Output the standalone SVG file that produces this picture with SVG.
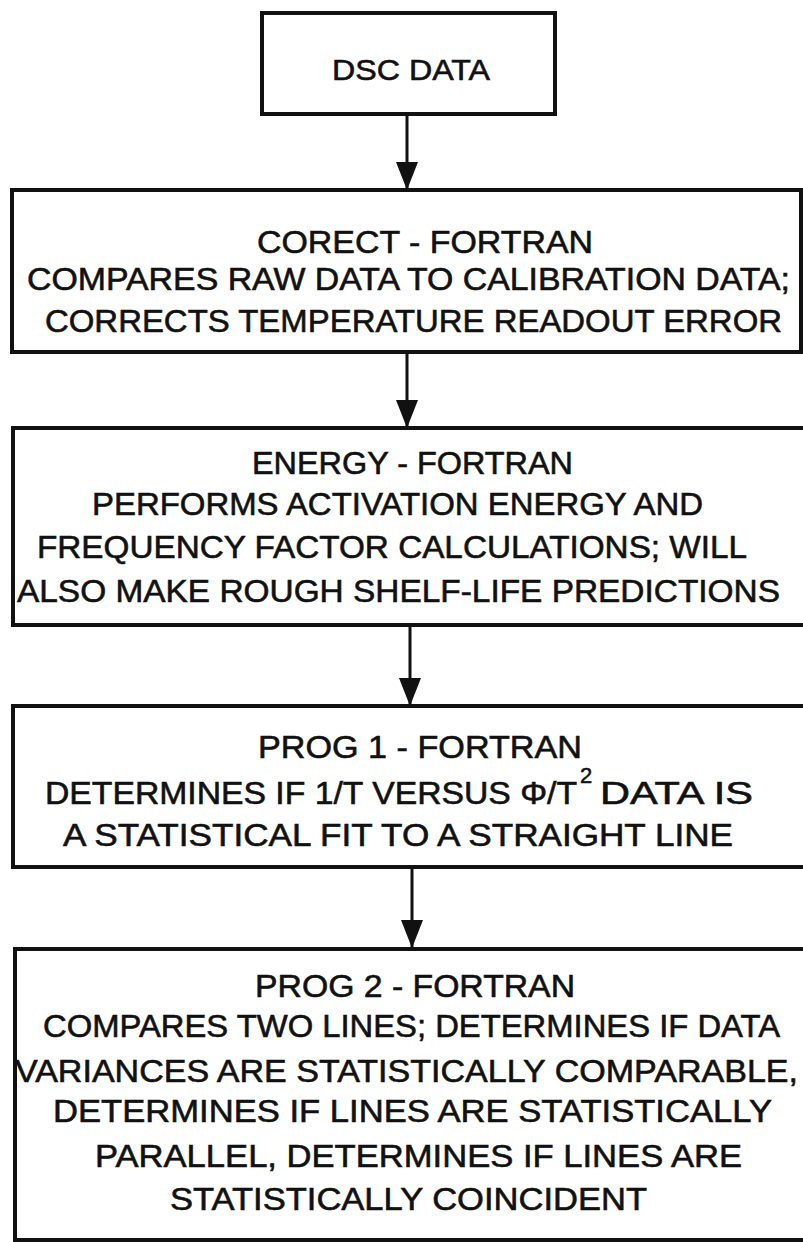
<svg xmlns="http://www.w3.org/2000/svg" width="803" height="1242" viewBox="0 0 803 1242">
<style>
.box{fill:none;stroke:#111;stroke-width:4}
.t{font-family:"Liberation Sans",Arial,sans-serif;font-size:32px;fill:#111;stroke:#111;stroke-width:0.6}
.sup{font-family:"Liberation Sans",Arial,sans-serif;font-size:22px;fill:#111;stroke:#111;stroke-width:0.5}
.conn{stroke:#111;stroke-width:3;fill:none}
</style>
<defs>
<marker id="ah" viewBox="0 0 28 22" refX="28" refY="11" markerWidth="28" markerHeight="22" markerUnits="userSpaceOnUse" orient="auto">
<path d="M0,0 L28,11 L0,22 z" fill="#111"/>
</marker>
</defs>
<rect width="803" height="1242" fill="#fff"/>
<g id="connectors">
<line class="conn" x1="407" y1="114" x2="407" y2="190" marker-end="url(#ah)"/>
<line class="conn" x1="407" y1="352" x2="407" y2="428" marker-end="url(#ah)"/>
<line class="conn" x1="410" y1="625" x2="410" y2="706" marker-end="url(#ah)"/>
<line class="conn" x1="412" y1="867" x2="412" y2="948" marker-end="url(#ah)"/>
</g>
<g id="dsc">
<rect class="box" x="262" y="13" width="293" height="101"/>
<text class="t" x="332" y="80" textLength="158" lengthAdjust="spacingAndGlyphs" style="font-size:30px">DSC DATA</text>
</g>
<g id="corect">
<rect class="box" x="12" y="190" width="789" height="162"/>
<text class="t" x="257" y="253" textLength="336" lengthAdjust="spacingAndGlyphs">CORECT - FORTRAN</text>
<text class="t" x="27" y="290" textLength="763" lengthAdjust="spacingAndGlyphs">COMPARES RAW DATA TO CALIBRATION DATA;</text>
<text class="t" x="45" y="332" textLength="737" lengthAdjust="spacingAndGlyphs">CORRECTS TEMPERATURE READOUT ERROR</text>
</g>
<g id="energy">
<rect class="box" x="13" y="428" width="795" height="197"/>
<text class="t" x="252" y="474" textLength="321" lengthAdjust="spacingAndGlyphs">ENERGY - FORTRAN</text>
<text class="t" x="92" y="515" textLength="611" lengthAdjust="spacingAndGlyphs">PERFORMS ACTIVATION ENERGY AND</text>
<text class="t" x="37" y="558" textLength="710" lengthAdjust="spacingAndGlyphs">FREQUENCY FACTOR CALCULATIONS;  WILL</text>
<text class="t" x="17" y="602" textLength="763" lengthAdjust="spacingAndGlyphs">ALSO MAKE ROUGH SHELF-LIFE PREDICTIONS</text>
</g>
<g id="prog1">
<rect class="box" x="13" y="706" width="795" height="161"/>
<text class="t" x="258" y="758" textLength="324" lengthAdjust="spacingAndGlyphs">PROG 1 - FORTRAN</text>
<text class="t" x="45" y="804" textLength="532" lengthAdjust="spacingAndGlyphs">DETERMINES IF 1/T VERSUS Φ/T</text>
<text class="sup" x="580" y="783">2</text>
<text class="t" x="600" y="804" textLength="153" lengthAdjust="spacingAndGlyphs">DATA IS</text>
<text class="t" x="63" y="846" textLength="670" lengthAdjust="spacingAndGlyphs">A STATISTICAL FIT TO A STRAIGHT LINE</text>
</g>
<g id="prog2">
<rect class="box" x="15" y="949" width="795" height="291"/>
<text class="t" x="255" y="997" textLength="320" lengthAdjust="spacingAndGlyphs">PROG 2 - FORTRAN</text>
<text class="t" x="43" y="1037" textLength="737" lengthAdjust="spacingAndGlyphs">COMPARES TWO LINES; DETERMINES IF DATA</text>
<text class="t" x="15" y="1082" textLength="783" lengthAdjust="spacingAndGlyphs">VARIANCES ARE STATISTICALLY COMPARABLE,</text>
<text class="t" x="53" y="1122" textLength="719" lengthAdjust="spacingAndGlyphs">DETERMINES IF LINES ARE STATISTICALLY</text>
<text class="t" x="95" y="1167" textLength="647" lengthAdjust="spacingAndGlyphs">PARALLEL, DETERMINES IF LINES ARE</text>
<text class="t" x="170" y="1210" textLength="477" lengthAdjust="spacingAndGlyphs">STATISTICALLY COINCIDENT</text>
</g>
</svg>
